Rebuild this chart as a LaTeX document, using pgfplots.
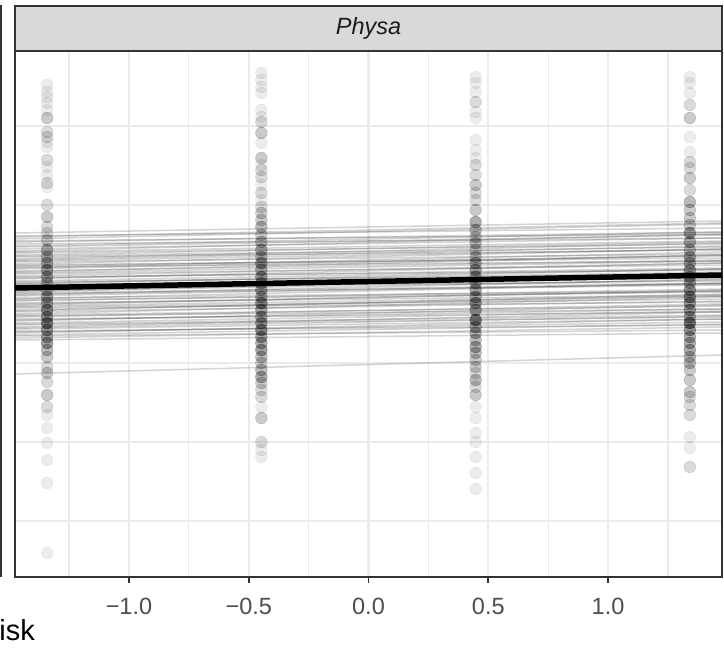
\documentclass[border=0pt]{standalone}
\usepackage{pgfplots}
\pgfplotsset{compat=1.18}
\usepackage{pgfplotstable}
\usepackage{fontspec}
\setmainfont{Liberation Sans}
\definecolor{grey10}{HTML}{1A1A1A}
\definecolor{grey20}{HTML}{333333}
\definecolor{grey30}{HTML}{4D4D4D}
\definecolor{grey85}{HTML}{D9D9D9}
\definecolor{grey92}{HTML}{EBEBEB}

% x = scaled predictor, y = response (panel units), n = number of overlapping points
\pgfplotstableread{
x y n
-1.3416 357 1
-1.3416 350 1
-1.3416 345 1
-1.3416 339 1
-1.3416 332 1
-1.3416 324 3
-1.3416 310 2
-1.3416 305 2
-1.3416 300 1
-1.3416 295 1
-1.3416 282 2
-1.3416 275 1
-1.3416 267 1
-1.3416 259 2
-1.3416 255 1
-1.3416 237 2
-1.3416 225 3
-1.3416 215 2
-1.3416 209 2
-1.3416 202 3
-1.3416 192 5
-1.3416 185 4
-1.3416 179 5
-1.3416 172 6
-1.3416 165 5
-1.3416 159 4
-1.3416 152 4
-1.3416 145 6
-1.3416 139 5
-1.3416 132 7
-1.3416 125 6
-1.3416 119 8
-1.3416 112 6
-1.3416 105 5
-1.3416 99 6
-1.3416 92 4
-1.3416 85 3
-1.3416 75 2
-1.3416 69 3
-1.3416 60 2
-1.3416 47 3
-1.3416 35 2
-1.3416 27 1
-1.3416 14 1
-1.3416 -1 1
-1.3416 -18 1
-1.3416 -41 1
-1.3416 -111 1
-0.4472 369 1
-0.4472 362 1
-0.4472 355 1
-0.4472 349 1
-0.4472 332 1
-0.4472 325 1
-0.4472 320 2
-0.4472 309 3
-0.4472 299 1
-0.4472 284 3
-0.4472 277 1
-0.4472 272 2
-0.4472 265 2
-0.4472 257 1
-0.4472 249 2
-0.4472 242 1
-0.4472 235 2
-0.4472 229 3
-0.4472 222 3
-0.4472 215 4
-0.4472 207 3
-0.4472 200 4
-0.4472 192 5
-0.4472 185 4
-0.4472 179 6
-0.4472 172 5
-0.4472 165 6
-0.4472 159 5
-0.4472 152 6
-0.4472 145 5
-0.4472 139 7
-0.4472 132 6
-0.4472 125 5
-0.4472 119 6
-0.4472 112 7
-0.4472 105 6
-0.4472 99 5
-0.4472 92 6
-0.4472 85 4
-0.4472 79 3
-0.4472 72 4
-0.4472 65 5
-0.4472 59 3
-0.4472 52 2
-0.4472 45 2
-0.4472 35 1
-0.4472 24 3
-0.4472 0 2
-0.4472 -8 1
-0.4472 -15 1
0.4472 365 1
0.4472 359 1
0.4472 350 1
0.4472 340 2
0.4472 330 1
0.4472 324 1
0.4472 302 1
0.4472 292 1
0.4472 284 1
0.4472 277 2
0.4472 267 2
0.4472 257 3
0.4472 249 2
0.4472 242 2
0.4472 232 3
0.4472 220 5
0.4472 212 4
0.4472 205 3
0.4472 199 4
0.4472 192 3
0.4472 185 4
0.4472 179 5
0.4472 172 6
0.4472 165 5
0.4472 159 5
0.4472 152 6
0.4472 145 5
0.4472 139 6
0.4472 132 6
0.4472 122 9
0.4472 115 5
0.4472 109 5
0.4472 102 4
0.4472 95 5
0.4472 89 4
0.4472 82 3
0.4472 75 3
0.4472 69 2
0.4472 62 4
0.4472 55 2
0.4472 47 3
0.4472 35 1
0.4472 24 1
0.4472 9 1
0.4472 0 1
0.4472 -15 1
0.4472 -31 1
0.4472 -47 1
1.3416 365 1
1.3416 359 1
1.3416 349 1
1.3416 337 2
1.3416 324 3
1.3416 305 1
1.3416 290 1
1.3416 280 2
1.3416 274 2
1.3416 264 3
1.3416 252 2
1.3416 240 4
1.3416 232 3
1.3416 224 3
1.3416 217 3
1.3416 209 6
1.3416 200 5
1.3416 192 4
1.3416 185 5
1.3416 179 5
1.3416 172 6
1.3416 165 6
1.3416 159 5
1.3416 152 6
1.3416 145 7
1.3416 139 6
1.3416 132 6
1.3416 125 5
1.3416 119 9
1.3416 112 6
1.3416 105 5
1.3416 99 5
1.3416 92 5
1.3416 85 4
1.3416 79 4
1.3416 72 3
1.3416 62 3
1.3416 50 3
1.3416 45 2
1.3416 37 2
1.3416 27 2
1.3416 5 1
1.3416 -6 1
1.3416 -25 2
}\pts

\pgfplotsset{thinline/.style={black, opacity=0.17, line width=1.5bp}}

\begin{document}
\begin{tikzpicture}
\useasboundingbox (-15bp,-72bp) rectangle (709bp,577bp);
\begin{axis}[
  name=ax, at={(0,0)}, anchor=south west,
  width=707bp, height=526bp, scale only axis,
  xmin=-1.4758, xmax=1.4758, ymin=-135, ymax=391,
  axis line style={grey20, line width=1.8bp},
  xtick={-1,-0.5,0,0.5,1},
  xticklabels={−1.0,−0.5,0.0,0.5,1.0},
  minor xtick={-1.25,-0.75,-0.25,0.25,0.75,1.25},
  ytick={0,158,316}, minor ytick={-79,79,237}, yticklabels={},
  grid=both,
  major grid style={grey92, line width=2.2bp},
  minor grid style={grey92, line width=1.2bp},
  tick align=outside, xtick pos=left, ytick pos=left,
  major tick length=6bp, minor tick length=0bp,
  xtick style={grey20, line width=1.8bp},
  ytick style={draw=none},
  xticklabel style={font=\fontsize{23.5bp}{28bp}\selectfont, text=grey30, anchor=base, yshift=-31bp},
  clip=true,
]
\addplot[only marks, scatter, mark=*, mark size=5.9bp,
  mark options={fill=black, draw=none},
  visualization depends on={\thisrow{n} \as \cnt},
  scatter/@pre marker code/.code={\pgfmathsetmacro\op{1-0.925^\cnt}\begin{scope}[opacity=\op]},
  scatter/@post marker code/.code={\end{scope}}]
  table[x=x, y=y] {\pts};

\foreach \a/\b in {209/221, 206/214, 205/219, 203/218, 201/208, 200/210, 198/204, 196/210,
  195/207, 193/204, 191/208, 190/201, 189/198, 187/200, 186/195, 185/192, 183/199, 182/196,
  181/193, 180/188, 178/193, 177/184, 176/186, 175/181, 174/190, 173/187,
  171/182, 170/187, 169/181, 168/177, 166/179, 165/172, 164/174, 163/179, 161/173, 160/168,
  159/170, 158/173, 157/164, 156/166,
  155/161, 153/167, 152/165, 151/162, 150/167, 149/158, 148/157, 147/163, 146/159, 144/151,
  143/159, 142/150, 141/153, 139/147,
  138/151, 137/152, 136/146, 135/143, 134/140, 132/146, 131/148, 130/141, 128/145, 127/136,
  126/133, 125/138, 123/130, 122/133, 121/137,
  119/131, 118/127, 117/125, 115/130, 114/126, 113/123, 111/117, 110/120, 109/123, 107/118,
  106/112, 104/115, 102/109, 68/87}{
  \edef\tmp{\noexpand\addplot[thinline] coordinates {(-1.4758,\a) (1.4758,\b)};}
  \tmp
}
\addplot[black, line width=5.5bp] coordinates {(-1.4758,154) (1.4758,167)};
\end{axis}
\draw[grey20, line width=1.8bp, fill=grey85] (ax.north west) rectangle ([yshift=45bp]ax.north east);
\node[font=\fontsize{23.5bp}{28bp}\selectfont\itshape, text=grey10] at ([yshift=22.5bp]ax.north) {Physa};
\draw[grey20, line width=1.8bp] (-14.2bp,0bp) -- (-14.2bp,572bp);
\node[anchor=base east, inner sep=0pt, font=\fontsize{29bp}{34bp}\selectfont] at (20bp,-63bp) {Risk};
\end{tikzpicture}
\end{document}
